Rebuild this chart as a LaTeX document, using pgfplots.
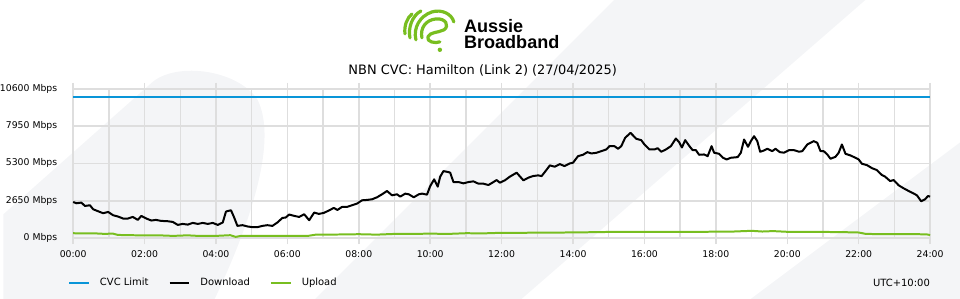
\documentclass[border=0pt]{standalone}
\usepackage{pgfplots}
\pgfplotsset{compat=1.18}
\usepackage{fontspec}
\setmainfont{DejaVu Sans}
\newfontfamily\logofont{Liberation Sans}
\definecolor{gridc}{RGB}{222,222,222}
\definecolor{bgc}{RGB}{244,245,247}
\definecolor{cvcblue}{RGB}{9,149,216}
\definecolor{abbgreen}{RGB}{120,190,32}
\begin{document}
\begin{tikzpicture}
\path (0pt,0pt) rectangle (720pt,225pt);
\begin{scope}[shift={(0pt,225pt)},x=0.75pt,y=-0.75pt]
  % background watermark shapes
  \fill[bgc] (0,215) -- (150,82) .. controls (175,62) and (235,70) .. (255,100) .. controls (275,140) and (250,220) .. (212,300) -- (0,300) -- cycle;
  \fill[bgc] (613,0) -- (865,0) -- (520,300) -- (313,300) -- cycle;
  \fill[bgc] (960,143) -- (960,300) -- (750,300) -- cycle;
  % logo
  \begin{scope}[abbgreen, line width=2.4pt, line cap=round, line join=round]
    \draw (403,34) .. controls (402,26) and (405,18) .. (410,14);
    \draw (408,38) .. controls (406,28) and (410,16) .. (419,11);
    \draw (414,40) .. controls (411,28) and (418,16) .. (430,12) .. controls (440,9) and (450,14) .. (452,22);
    \draw (420,38) .. controls (418,28) and (424,20) .. (434,19) .. controls (444,18) and (448,26) .. (442,30) .. controls (436,33) and (428,32) .. (426,37) .. controls (424,42) and (434,44) .. (438,42);
    \fill (438,50) circle (2.2);
  \end{scope}
  \node[anchor=base west, inner sep=0pt, font=\logofont\bfseries\fontsize{13.6pt}{14pt}\selectfont] at (462,32.5) {Aussie};
  \node[anchor=base west, inner sep=0pt, font=\logofont\bfseries\fontsize{13.6pt}{14pt}\selectfont] at (462,49) {Broadband};
  \node[font=\fontsize{9.75pt}{11pt}\selectfont, inner sep=0pt] at (481,70.5) {NBN CVC: Hamilton (Link 2) (27/04/2025)};
  \node[anchor=east, inner sep=0pt, font=\fontsize{7.5pt}{9pt}\selectfont] at (930,284) {UTC+10:00};
\end{scope}
\begin{axis}[
  at={(52.5pt,45.75pt)}, anchor=south west,
  width=645pt, height=112.5pt, scale only axis,
  xmin=0, xmax=24, ymin=0, ymax=10600,
  scaled y ticks=false,
  xtick={0,2,...,24},
  xticklabels={00:00,02:00,04:00,06:00,08:00,10:00,12:00,14:00,16:00,18:00,20:00,22:00,24:00},
  minor xtick={1,3,...,23},
  ytick={0,2650,5300,7950,10600},
  yticklabels={0 Mbps,2650 Mbps,5300 Mbps,7950 Mbps,10600 Mbps},
  xmajorgrids, xminorgrids, ymajorgrids,
  x grid style={gridc, line width=1.1pt},
  minor x grid style={gridc, line width=1.1pt},
  y grid style={gridc, line width=1.3pt},
  axis line style={gridc, line width=1.1pt},
  tick align=outside,
  major tick length=4.5pt, minor tick length=0pt,
  xtick style={gridc, line width=1.1pt},
  ytick style={draw=none},
  xticklabel style={font=\fontsize{7pt}{8pt}\selectfont, inner sep=0pt, anchor=north, yshift=-4.8pt},
  yticklabel style={font=\fontsize{7pt}{8pt}\selectfont, inner sep=0pt, anchor=east, xshift=-7.3pt},
  /pgf/number format/assume math mode=true,
  clip=false,
  legend columns=3,
  legend style={at={(0,-0.3)}, anchor=west, xshift=-4pt, draw=none, fill=none, inner sep=0pt,
    font=\fontsize{7.5pt}{9pt}\selectfont,
    nodes={inner sep=0pt, anchor=west},
    /tikz/every odd column/.append style={column sep=7.5pt},
    /tikz/every even column/.append style={column sep=15pt}},
  legend image code/.code={\draw[#1] (0pt,0pt) -- (15pt,0pt);},
]
\addplot[cvcblue, line width=1.5pt] coordinates {(0,10000) (24,10000)};
\addlegendentry{CVC Limit}
\addplot[black, line width=1.5pt, line join=round] coordinates {
(0.00,2565) (0.09,2473) (0.23,2520) (0.33,2283) (0.47,2332) (0.56,2050) (0.70,1908) (0.84,1767) (0.98,1860)
(1.12,1625) (1.26,1530) (1.40,1390) (1.53,1390) (1.67,1505) (1.81,1295) (1.91,1578) (2.05,1390) (2.19,1250)
(2.32,1295) (2.46,1225) (2.65,1200) (2.79,1150) (2.93,940) (3.07,1010) (3.21,960) (3.35,1080) (3.49,1010)
(3.63,1080) (3.77,1010) (3.91,1080) (4.05,940) (4.19,1110) (4.28,1887) (4.42,1980) (4.51,1460) (4.60,870)
(4.74,920) (4.88,830) (5.02,780) (5.16,780) (5.30,870) (5.44,920) (5.58,870) (5.72,1110) (5.86,1435)
(5.95,1460) (6.05,1675) (6.19,1578) (6.33,1505) (6.47,1696) (6.61,1272) (6.75,1814) (6.88,1720) (7.02,1790)
(7.16,1960) (7.30,2143) (7.40,2000) (7.53,2214) (7.67,2214) (7.81,2332) (7.95,2450) (8.09,2685) (8.23,2710)
(8.37,2756) (8.51,2897) (8.65,3110) (8.79,3343) (8.93,3039) (9.07,3110) (9.16,2945) (9.30,3157) (9.40,3110)
(9.54,2897) (9.68,3110) (9.77,3157) (9.91,3086) (10.00,3696) (10.11,4170) (10.21,3650) (10.28,4360) (10.37,4756)
(10.51,4685) (10.56,4640) (10.65,3979) (10.79,3979) (10.93,3887) (11.07,3979) (11.21,4028) (11.35,3863)
(11.49,3863) (11.63,3767) (11.77,3979) (11.86,4120) (11.95,3933) (12.09,4100) (12.23,4360) (12.42,4643)
(12.61,4100) (12.75,4290) (12.88,4403) (13.02,4452) (13.12,4403) (13.23,4756) (13.35,5159) (13.49,5067)
(13.63,5250) (13.76,5110) (13.91,5300) (14.00,5350) (14.14,5817) (14.28,5913) (14.40,6100) (14.51,6007)
(14.65,6050) (14.79,6170) (14.93,6290) (15.02,6523) (15.16,6523) (15.26,6340) (15.35,6523) (15.46,7117)
(15.61,7470) (15.77,7046) (15.91,6950) (16.00,6643) (16.14,6290) (16.28,6290) (16.37,6380) (16.47,6127)
(16.60,6290) (16.74,6523) (16.88,7067) (16.97,6805) (17.05,6431) (17.14,6950) (17.26,6523) (17.35,6240)
(17.44,6240) (17.53,5913) (17.67,5936) (17.77,5817) (17.88,6523) (17.95,6060) (18.09,5983) (18.20,5700)
(18.30,5580) (18.42,5700) (18.61,5747) (18.70,6060) (18.79,6996) (18.90,6480) (18.98,6880) (19.07,7230)
(19.16,6880) (19.24,6127) (19.35,6220) (19.44,6340) (19.58,6170) (19.67,6340) (19.79,6100) (19.91,6060)
(20.05,6240) (20.19,6240) (20.33,6127) (20.42,6170) (20.56,6643) (20.74,6880) (20.84,6760) (20.93,6170)
(21.02,6170) (21.12,5936) (21.21,5630) (21.35,5770) (21.44,6060) (21.53,6643) (21.63,5983) (21.77,5865)
(21.91,5700) (22.00,5580) (22.09,5275) (22.23,5180) (22.37,4968) (22.51,4827) (22.65,4474) (22.74,4360)
(22.88,4050) (22.98,4120) (23.12,3745) (23.26,3533) (23.40,3343) (23.53,3180) (23.63,3039) (23.75,2615)
(23.86,2756) (23.94,2990) (24.00,2945)
};
\addlegendentry{Download}
\addplot[abbgreen, line width=1.5pt, line join=round] coordinates {
(0,350) (0.3,330) (0.6,340) (0.9,300) (1.1,330) (1.25,230) (1.5,210) (2.0,200) (2.5,190) (2.8,160)
(3.2,200) (3.5,160) (4.0,160) (4.4,210) (4.55,90) (4.7,160) (5.5,160) (6.0,165) (6.6,170) (6.8,250)
(7.5,260) (8,280) (8.5,250) (9,300) (9.5,300) (10,320) (10.5,300) (11,350) (11.5,340) (12,380)
(12.5,370) (13,400) (13.5,390) (14,410) (14.5,420) (15,440) (15.5,445) (16,450) (16.5,440) (17,450)
(17.5,445) (18,460) (18.5,470) (19,520) (19.3,470) (19.6,500) (20,450) (20.5,445) (21,440) (21.5,430)
(22,400) (22.2,300) (22.5,290) (23,280) (23.5,285) (23.9,270) (24,220)
};
\addlegendentry{Upload}
\end{axis}
\end{tikzpicture}
\end{document}
